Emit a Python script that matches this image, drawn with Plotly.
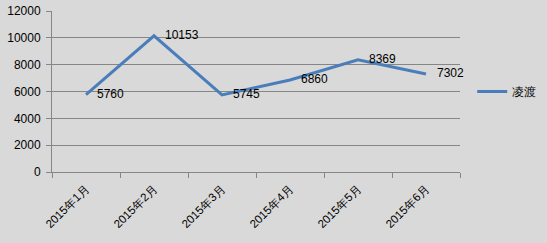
import plotly.graph_objects as go

categories = ["2015年1月", "2015年2月", "2015年3月", "2015年4月", "2015年5月", "2015年6月"]
values = [5760, 10153, 5745, 6860, 8369, 7302]
series_name = "凌渡"

fig = go.Figure()
fig.add_trace(go.Scatter(
    x=categories, y=values, name=series_name,
    mode="lines+markers+text",
    text=[str(v) for v in values],
    textposition="middle right",
    textfont=dict(size=12, color="#000000", family="Liberation Sans, Arial"),
    line=dict(color="#4A7EBB", width=3),
    marker=dict(size=16, color="rgba(0,0,0,0)", line=dict(width=0)),
    cliponaxis=False,
))

fig.update_layout(
    width=547, height=243,
    margin=dict(l=52, r=87, t=11, b=71, autoexpand=False),
    paper_bgcolor="#D9D9D9", plot_bgcolor="#D9D9D9",
    font=dict(family="Liberation Sans, Arial", size=12, color="#000000"),
    showlegend=True,
    legend=dict(x=1.03, y=0.5, xanchor="left", yanchor="middle",
                bgcolor="rgba(0,0,0,0)", font=dict(size=12)),
)
fig.update_xaxes(
    type="category", tickangle=-45, tickson="boundaries",
    ticks="outside", ticklen=5, tickcolor="#868686",
    showline=True, linecolor="#868686", linewidth=1,
    showgrid=False, range=[-0.5, 5.5], automargin=False,
    tickfont=dict(size=11.5), ticklabelstandoff=4,
)
fig.update_yaxes(
    range=[0, 12000], dtick=2000, tickformat="d",
    ticks="outside", ticklen=5, tickcolor="#868686",
    showline=True, linecolor="#868686", linewidth=1,
    showgrid=True, gridcolor="#868686", gridwidth=1,
    zeroline=False, automargin=False, ticklabelstandoff=3,
)

fig.write_html("out.html")
